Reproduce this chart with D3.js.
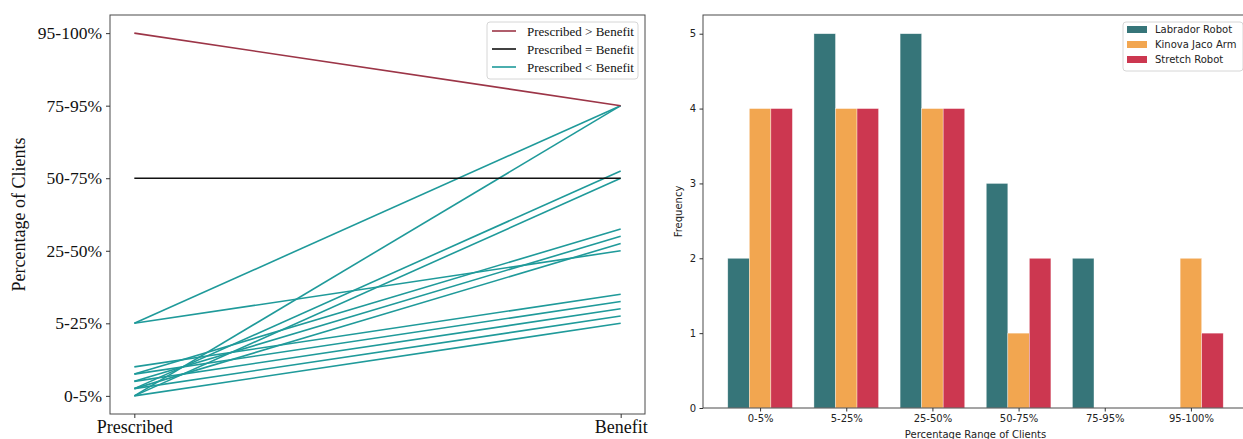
<!DOCTYPE html>
<html>
<head>
<meta charset="utf-8">
<script src="https://cdn.jsdelivr.net/npm/d3@7"></script>
<style>
  body { margin: 0; background: #fff; }
  svg { display: block; }
</style>
</head>
<body>
<div id="chart"></div>
<script>
// range buckets (shared by both panels)
var levels = ["0-5%", "5-25%", "25-50%", "50-75%", "75-95%", "95-100%"];

// left panel: one entry per client
var prescribed = ["95-100%", "50-75%", "5-25%", "5-25%", "0-5%", "0-5%", "0-5%", "0-5%",
                  "0-5%", "0-5%", "0-5%", "0-5%", "0-5%", "0-5%", "0-5%"];
var benefit    = ["75-95%", "50-75%", "75-95%", "25-50%", "75-95%", "50-75%", "50-75%", "25-50%",
                  "25-50%", "25-50%", "5-25%", "5-25%", "5-25%", "5-25%", "5-25%"];
var jitter     = [0, 0, 0, 0, 0, 0, 0.1, 0.1, 0.2, 0.3, 0, 0.1, 0.2, 0.3, 0.4];
var sides = ["Prescribed", "Benefit"];

// right panel: frequency per bucket
var robots   = ["Labrador Robot", "Kinova Jaco Arm", "Stretch Robot"];
var labrador = [2, 5, 5, 3, 2, 0];
var kinova   = [4, 4, 4, 1, 0, 2];
var stretch  = [4, 4, 4, 2, 0, 1];

var width = 1243, height = 439;
var svg = d3.select("#chart").append("svg")
  .attr("width", width).attr("height", height);

var serif = "'Liberation Serif', 'DejaVu Serif', serif";
var sans = "'DejaVu Sans', sans-serif";
var lineColor = { gt: "#9c3547", eq: "#111111", lt: "#1f9a9a" };

// ---------- left: slope chart ----------
var L = { left: 110, right: 645, top: 15, bottom: 414 };
var x1 = d3.scaleLinear().domain([-0.05, 1.05]).range([L.left, L.right]);
var y1 = d3.scaleLinear().domain([-0.25, 5.25]).range([L.bottom, L.top]);

var lines = prescribed.map(function (p, i) {
  var a = levels.indexOf(p), b = levels.indexOf(benefit[i]);
  return { a: a + jitter[i], b: b + jitter[i], kind: a > b ? "gt" : (a == b ? "eq" : "lt") };
});
// draw teal first, then black, then red on top
var order = { lt: 0, eq: 1, gt: 2 };
lines.sort(function (p, q) { return order[p.kind] - order[q.kind]; });

svg.append("g").selectAll("line")
  .data(lines).enter().append("line")
  .attr("x1", x1(0)).attr("x2", x1(1))
  .attr("y1", function (d) { return y1(d.a); })
  .attr("y2", function (d) { return y1(d.b); })
  .attr("stroke", function (d) { return lineColor[d.kind]; })
  .attr("stroke-width", 1.6);

svg.append("rect")
  .attr("x", L.left).attr("y", L.top)
  .attr("width", L.right - L.left).attr("height", L.bottom - L.top)
  .attr("fill", "none").attr("stroke", "#4a4a4a").attr("stroke-width", 1);

var yAxis1 = svg.append("g")
  .attr("transform", "translate(" + L.left + ",0)")
  .call(d3.axisLeft(y1).tickValues(d3.range(levels.length))
    .tickFormat(function (d) { return levels[d]; }).tickSizeOuter(0).tickSize(4).tickPadding(4));
yAxis1.select(".domain").remove();
yAxis1.selectAll("text").attr("font-family", serif).attr("font-size", 17.5).attr("fill", "#111");
yAxis1.selectAll("line").attr("stroke", "#333");

var xAxis1 = svg.append("g")
  .attr("transform", "translate(0," + L.bottom + ")")
  .call(d3.axisBottom(x1).tickValues([0, 1])
    .tickFormat(function (d) { return sides[d]; }).tickSizeOuter(0).tickSize(4).tickPadding(2));
xAxis1.select(".domain").remove();
xAxis1.selectAll("text").attr("font-family", serif).attr("font-size", 18).attr("fill", "#111");
xAxis1.selectAll("line").attr("stroke", "#333");

svg.append("text")
  .attr("transform", "translate(25," + ((L.top + L.bottom) / 2) + ") rotate(-90)")
  .attr("text-anchor", "middle")
  .attr("font-family", serif).attr("font-size", 18).attr("fill", "#111")
  .text("Percentage of Clients");

// legend left
var leg1 = svg.append("g").attr("transform", "translate(487,22)");
leg1.append("rect").attr("width", 151).attr("height", 57).attr("rx", 3)
  .attr("fill", "#fff").attr("fill-opacity", 0.85).attr("stroke", "#d6d6d6");
var legItems1 = [["gt", "Prescribed > Benefit"], ["eq", "Prescribed = Benefit"], ["lt", "Prescribed < Benefit"]];
legItems1.forEach(function (it, i) {
  var yy = 9 + i * 18;
  leg1.append("line").attr("x1", 5).attr("x2", 29).attr("y1", yy).attr("y2", yy)
    .attr("stroke", lineColor[it[0]]).attr("stroke-width", 1.6);
  leg1.append("text").attr("x", 40).attr("y", yy + 4.5)
    .attr("font-family", serif).attr("font-size", 13).attr("fill", "#111").text(it[1]);
});

// ---------- right: grouped bars ----------
var R = { left: 703, right: 1248, top: 15, bottom: 408 };
var x2 = d3.scaleLinear().domain([-0.6625, levels.length - 1 + 0.6625]).range([R.left, R.right]);
var y2 = d3.scaleLinear().domain([0, 5.25]).range([R.bottom, R.top]);
var barColor = d3.scaleOrdinal().domain(robots).range(["#367579", "#f2a650", "#cc3750"]);
var seriesVals = [labrador, kinova, stretch];
var bw = 0.25;

robots.forEach(function (r, s) {
  svg.append("g").selectAll("rect")
    .data(seriesVals[s]).enter().append("rect")
    .attr("x", function (d, i) { return x2(i + (s - 1) * bw - bw / 2); })
    .attr("width", x2(bw) - x2(0))
    .attr("y", function (d) { return y2(d); })
    .attr("height", function (d) { return y2(0) - y2(d); })
    .attr("fill", barColor(r))
    .attr("stroke", "#ffffff").attr("stroke-width", 0.6).attr("stroke-opacity", 0.6);
});

svg.append("rect")
  .attr("x", R.left).attr("y", R.top)
  .attr("width", R.right - R.left).attr("height", R.bottom - R.top)
  .attr("fill", "none").attr("stroke", "#4a4a4a").attr("stroke-width", 1);

var yAxis2 = svg.append("g")
  .attr("transform", "translate(" + R.left + ",0)")
  .call(d3.axisLeft(y2).tickValues(d3.range(6)).tickFormat(d3.format("d"))
    .tickSizeOuter(0).tickSize(3.5).tickPadding(3.5));
yAxis2.select(".domain").remove();
yAxis2.selectAll("text").attr("font-family", sans).attr("font-size", 10).attr("fill", "#222");
yAxis2.selectAll("line").attr("stroke", "#333");

var xAxis2 = svg.append("g")
  .attr("transform", "translate(0," + R.bottom + ")")
  .call(d3.axisBottom(x2).tickValues(d3.range(levels.length))
    .tickFormat(function (d) { return levels[d]; }).tickSizeOuter(0).tickSize(3.5).tickPadding(3.5));
xAxis2.select(".domain").remove();
xAxis2.selectAll("text").attr("font-family", sans).attr("font-size", 10).attr("fill", "#222");
xAxis2.selectAll("line").attr("stroke", "#333");

svg.append("text")
  .attr("transform", "translate(682," + ((R.top + R.bottom) / 2) + ") rotate(-90)")
  .attr("text-anchor", "middle")
  .attr("font-family", sans).attr("font-size", 10).attr("fill", "#222")
  .text("Frequency");

svg.append("text")
  .attr("x", (R.left + R.right) / 2).attr("y", 438)
  .attr("text-anchor", "middle")
  .attr("font-family", sans).attr("font-size", 10).attr("fill", "#222")
  .text("Percentage Range of Clients");

// legend right
var leg2 = svg.append("g").attr("transform", "translate(1123,22)");
leg2.append("rect").attr("width", 120).attr("height", 49).attr("rx", 3)
  .attr("fill", "#fff").attr("fill-opacity", 0.85).attr("stroke", "#d6d6d6");
robots.forEach(function (r, i) {
  var yy = 7.5 + i * 15;
  leg2.append("rect").attr("x", 4).attr("y", yy - 3.5).attr("width", 20).attr("height", 7)
    .attr("fill", barColor(r));
  leg2.append("text").attr("x", 32).attr("y", yy + 3.5)
    .attr("font-family", sans).attr("font-size", 10).attr("fill", "#222").text(r);
});
</script>
</body>
</html>
